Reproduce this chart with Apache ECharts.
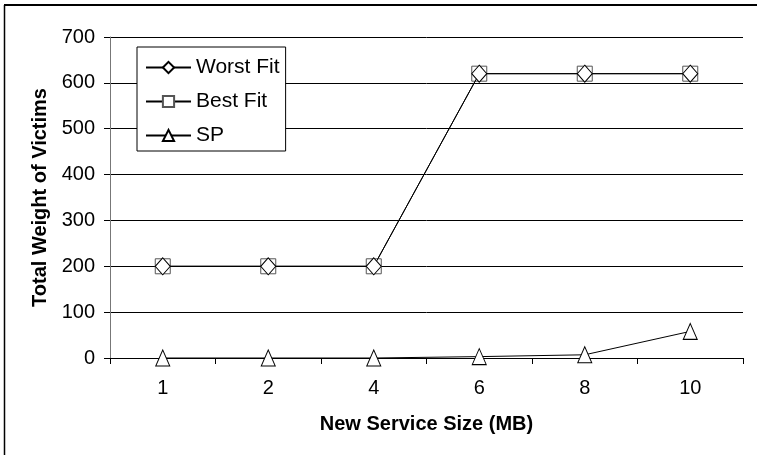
<!DOCTYPE html>
<html><head><meta charset="utf-8">
<script src="https://cdn.jsdelivr.net/npm/echarts@6/dist/echarts.min.js"></script>
<style>html,body{margin:0;padding:0;background:#fff}#c{width:757px;height:455px}</style>
</head><body><div id="c"></div>
<script>
const categories = ['1','2','4','6','8','10'];
const worstFit = [200,200,200,620,620,620];
const bestFit = [200,200,200,620,620,620];
const sp = [0,0,0,3,7,58];
const yTicks = [0,100,200,300,400,500,600,700];

const chart = echarts.init(document.getElementById('c'));
const font = 'Liberation Sans, Arial, sans-serif';
const mk = {color:'#fff', borderColor:'#000', borderWidth:1};
chart.setOption({
  animation:false,
  backgroundColor:'#fff',
  textStyle:{fontFamily:font},
  graphic:[
    {type:'line', shape:{x1:4.5,y1:5,x2:4.5,y2:460}, style:{stroke:'#000',lineWidth:1.5}, silent:true, z:100},
    {type:'line', shape:{x1:4,y1:5,x2:760,y2:5}, style:{stroke:'#000',lineWidth:2}, silent:true, z:100}
  ],
  grid:{left:110,right:14,top:37,bottom:97},
  legend:{
    orient:'vertical', left:137, top:47,
    padding:[10,6,5,8], itemGap:13, itemWidth:45, itemHeight:14,
    backgroundColor:'#fff', borderColor:'#000', borderWidth:1,
    textStyle:{fontSize:21, color:'#000', fontFamily:font},
    data:['Worst Fit','Best Fit','SP']
  },
  xAxis:{
    type:'category', data:categories, boundaryGap:true,
    name:'New Service Size (MB)', nameLocation:'middle', nameGap:56,
    nameTextStyle:{fontSize:20, fontWeight:'bold', color:'#000', fontFamily:font},
    axisLine:{lineStyle:{color:'#000',width:1}},
    axisTick:{show:true, length:6, lineStyle:{color:'#000'}},
    axisLabel:{fontSize:20, color:'#000', margin:20, fontFamily:font}
  },
  yAxis:{
    type:'value', min:yTicks[0], max:yTicks[yTicks.length-1], interval:100,
    name:'Total Weight of Victims', nameLocation:'middle', nameGap:60,
    nameTextStyle:{fontSize:20, fontWeight:'bold', color:'#000', fontFamily:font},
    axisLine:{show:true, lineStyle:{color:'#777',width:1}},
    axisTick:{show:true, length:6, lineStyle:{color:'#000'}},
    axisLabel:{fontSize:20, color:'#000', margin:15, fontFamily:font},
    splitLine:{show:true, lineStyle:{color:'#000', width:1}}
  },
  series:[
    {name:'Worst Fit', type:'line', data:worstFit, symbol:'diamond', symbolSize:[15,17],
     lineStyle:{color:'#000',width:1}, itemStyle:mk, z:4},
    {name:'Best Fit', type:'line', data:bestFit, symbol:'rect', symbolSize:15,
     lineStyle:{color:'#000',width:1}, itemStyle:{color:'#fff', borderColor:'#555', borderWidth:1}, z:3},
    {name:'SP', type:'line', data:sp, symbol:'triangle', symbolSize:[14,16],
     lineStyle:{color:'#000',width:1}, itemStyle:mk, z:3}
  ]
});
</script></body></html>
